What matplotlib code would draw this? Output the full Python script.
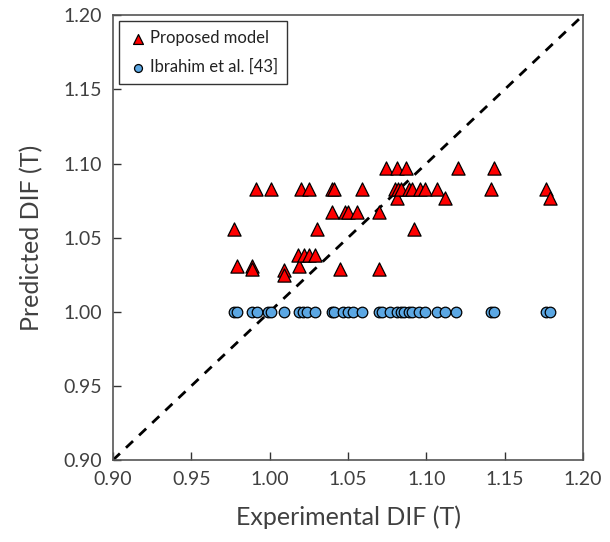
import matplotlib
matplotlib.use("Agg")
import matplotlib.pyplot as plt

plt.rcParams['font.family'] = ['Lato', 'DejaVu Sans']

# Proposed model (triangles)
prop_x = [0.977, 0.979, 0.989, 0.989, 0.991, 1.001, 1.009, 1.009, 1.018, 1.019,
          1.020, 1.022, 1.025, 1.025, 1.029, 1.030, 1.040, 1.041, 1.040, 1.045,
          1.048, 1.050, 1.056, 1.059, 1.070, 1.070, 1.074, 1.081, 1.087, 1.080,
          1.082, 1.081, 1.084, 1.089, 1.091, 1.096, 1.099, 1.092, 1.107, 1.112,
          1.120, 1.141, 1.143, 1.176, 1.179]
prop_y = [1.056, 1.031, 1.031, 1.029, 1.083, 1.083, 1.028, 1.025, 1.038, 1.031,
          1.083, 1.038, 1.083, 1.038, 1.038, 1.056, 1.083, 1.083, 1.067, 1.029,
          1.067, 1.067, 1.067, 1.083, 1.067, 1.029, 1.097, 1.097, 1.097, 1.083,
          1.083, 1.077, 1.083, 1.083, 1.083, 1.083, 1.083, 1.056, 1.083, 1.077,
          1.097, 1.083, 1.097, 1.083, 1.077]

# Ibrahim et al. [43] (circles)
ibr_x = [0.977, 0.979, 0.989, 0.992, 0.999, 1.001, 1.009, 1.019, 1.021, 1.024,
         1.029, 1.040, 1.041, 1.047, 1.050, 1.053, 1.059, 1.070, 1.072, 1.077,
         1.081, 1.084, 1.086, 1.089, 1.091, 1.095, 1.099, 1.107, 1.112, 1.119,
         1.141, 1.143, 1.176, 1.179]
ibr_y = [1.000] * len(ibr_x)

ticks = [0.90, 0.95, 1.00, 1.05, 1.10, 1.15, 1.20]
tick_labels = ["0.90", "0.95", "1.00", "1.05", "1.10", "1.15", "1.20"]

fig = plt.figure(figsize=(6.10, 5.42), dpi=100)
ax = fig.add_axes([0.185, 0.151, 0.771, 0.821])

ax.plot([0.9, 1.2], [0.9, 1.2], linestyle=(0, (3.5, 3)), color='black', linewidth=2, zorder=1)

ax.scatter(prop_x, prop_y, marker='^', s=90, facecolor='#FF0000', edgecolor='black',
           linewidth=0.9, zorder=3, label='Proposed model')
ax.scatter(ibr_x, ibr_y, marker='o', s=58, facecolor='#5BA7E3', edgecolor='black',
           linewidth=0.9, zorder=2, label='Ibrahim et al. [43]')

ax.set_xlim(0.9, 1.2)
ax.set_ylim(0.9, 1.2)
ax.set_xticks(ticks)
ax.set_xticklabels(tick_labels)
ax.set_yticks(ticks)
ax.set_yticklabels(tick_labels)
ax.tick_params(direction='in', length=6, width=1, labelsize=14, colors='#333333',
               labelcolor='#404040', pad=8, top=False, right=False)
for sp in ax.spines.values():
    sp.set_color('#555555')
    sp.set_linewidth(1.2)

ax.set_xlabel('Experimental DIF (T)', fontsize=18, color='#404040', labelpad=12)
ax.set_ylabel('Predicted DIF (T)', fontsize=18, color='#404040', labelpad=14)

h, l = ax.get_legend_handles_labels()
leg = ax.legend(h, l, loc='upper left', borderaxespad=0.35, fontsize=12,
                frameon=True, fancybox=False, edgecolor='black', markerscale=0.75,
                handletextpad=0.1, handlelength=1.2, borderpad=0.55, labelspacing=0.75)
leg.get_frame().set_linewidth(1.0)
for t in leg.get_texts():
    t.set_color('#222222')

fig.savefig('out.png', dpi=100)
